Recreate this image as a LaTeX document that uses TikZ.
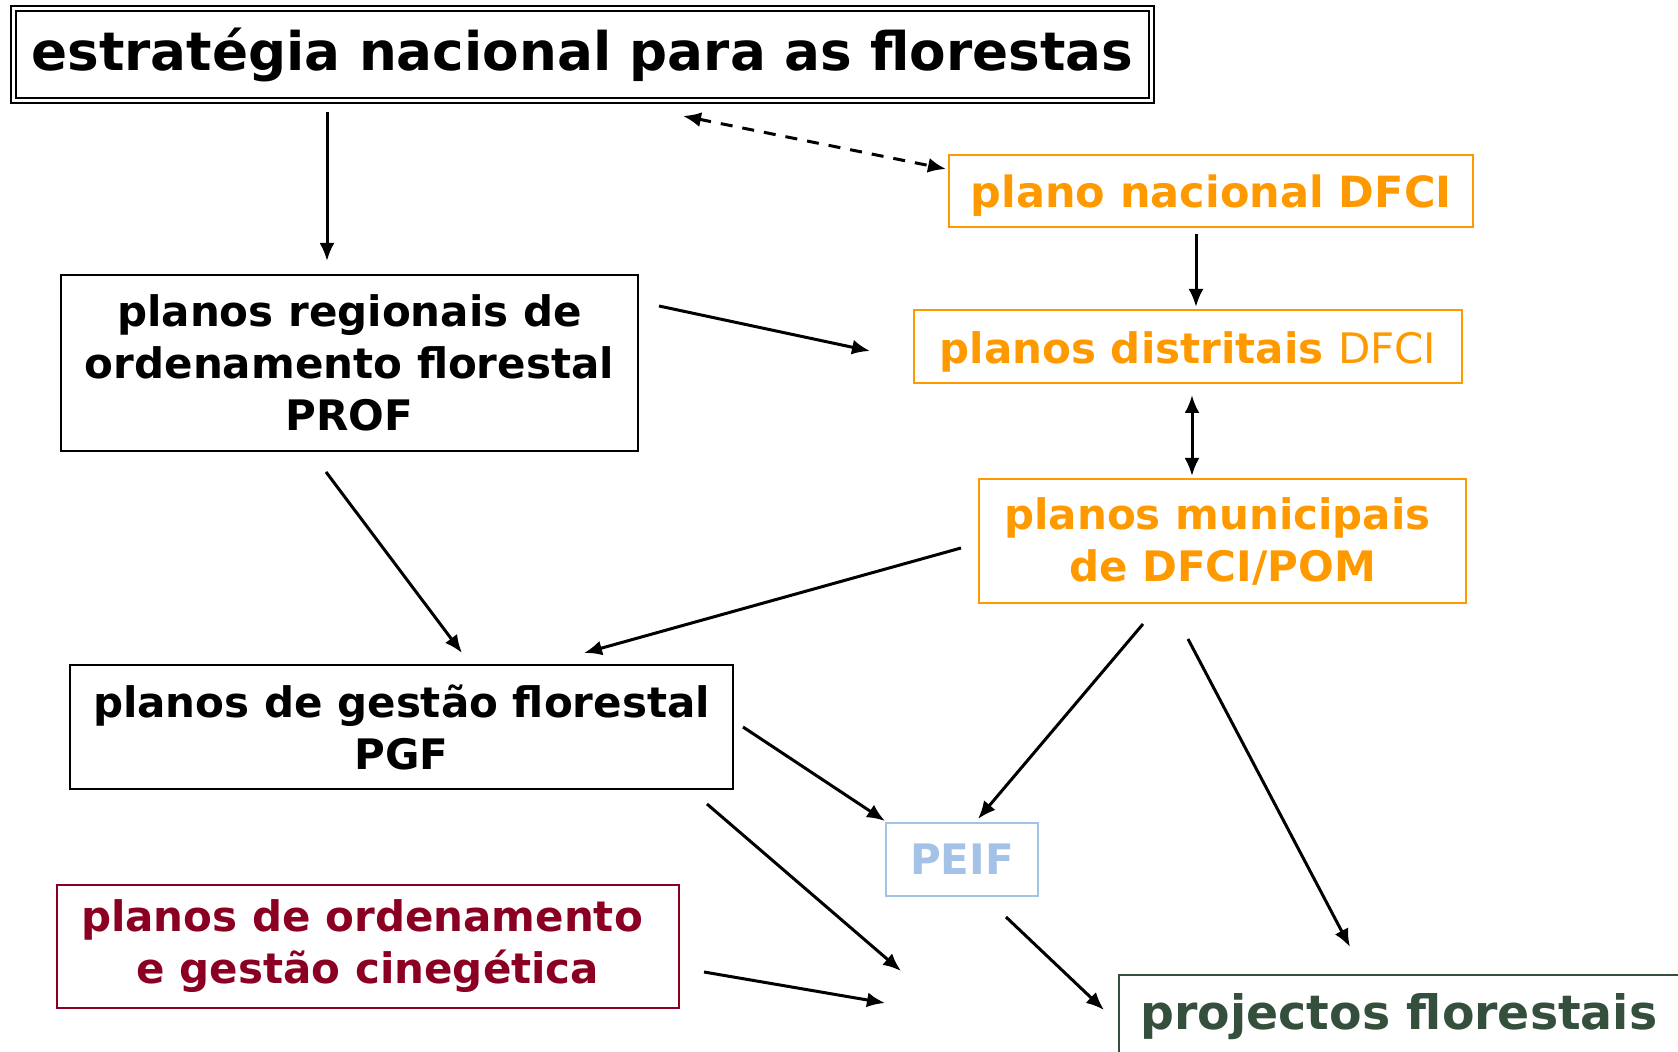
\documentclass[tikz,border=0pt]{standalone}
\usepackage{fontspec}
\setmainfont{DejaVu Sans}
\usetikzlibrary{arrows.meta,calc,positioning}
\definecolor{dforange}{RGB}{255,153,0}
\definecolor{dfblue}{RGB}{164,194,232}
\definecolor{dfred}{RGB}{139,0,34}
\definecolor{dfgreen}{RGB}{52,79,59}

\begin{document}
\begin{tikzpicture}[x=0.5pt,y=-0.5pt,>={Latex[length=9pt,width=7.5pt]},
    every node/.style={align=center,inner sep=0pt,outer sep=0pt,font=\bfseries\fontsize{21}{26}\selectfont},
    arr/.style={->,line width=1.5pt}]
  \useasboundingbox (0,0) rectangle (1678,1052);
  \node[draw,double,line width=1pt,double distance=1.5pt,minimum width=569pt,minimum height=46pt,font=\bfseries\fontsize{26.6}{30}\selectfont] (enf) at (582.5,54.5) {estratégia nacional para as florestas};
  \node[draw=dforange,text=dforange,line width=0.8pt,minimum width=262pt,minimum height=36pt,font=\bfseries\fontsize{21.5}{26}\selectfont] (pndfci) at (1211,191) {\raisebox{-2.5pt}[\height][\depth]{plano nacional DFCI}};
  \node[draw,line width=0.8pt,minimum width=288.5pt,minimum height=88pt] (prof) at (349.5,363) {planos regionais de\\ordenamento florestal\\PROF};
  \node[draw=dforange,text=dforange,line width=0.8pt,minimum width=274pt,minimum height=36.5pt] (pddfci) at (1188,346.5) {\raisebox{-2.5pt}[\height][\depth]{planos distritais {\mdseries DFCI}}};
  \node[draw=dforange,text=dforange,line width=0.8pt,minimum width=243.5pt,minimum height=62pt] (pmdfci) at (1222.5,541) {planos municipais\hspace*{5pt}\\de DFCI/POM};
  \node[draw,line width=0.8pt,minimum width=331.5pt,minimum height=62pt] (pgf) at (401.5,727) {planos de gestão florestal\\PGF};
  \node[draw=dfblue,text=dfblue,line width=0.8pt,minimum width=76pt,minimum height=36.5pt] (peif) at (962,859.5) {PEIF};
  \node[draw=dfred,text=dfred,line width=0.8pt,minimum width=311pt,minimum height=61.5pt] (pogc) at (368,946.5) {planos de ordenamento\hspace*{6pt}\\e gestão cinegética};
  \node[draw=dfgreen,text=dfgreen,line width=0.8pt,minimum width=280pt,minimum height=42pt,font=\bfseries\fontsize{23.7}{28}\selectfont] (proj) at (1399,1017) {projectos florestais};
  \coordinate (endk) at (901,971);
  \coordinate (endl) at (885,1003);
  % connectors
  \draw[arr] ([shift={(-255.5,11.5)}]enf.south) -- ([shift={(-22.5,-14)}]prof.north);
  \draw[<->,line width=1.5pt,dash pattern=on 6pt off 5pt] ([shift={(100.5,15.5)}]enf.south) -- ([shift={(-3,-22)}]pndfci.west);
  \draw[arr] ([shift={(-15,7)}]pndfci.south) -- ([shift={(8,-3)}]pddfci.north);
  \draw[<->,line width=1.5pt] ([shift={(4,12)}]pddfci.south) -- ([shift={(-30.5,-3)}]pmdfci.north);
  \draw[arr] ([shift={(21,-57)}]prof.east) -- ([shift={(-44,4.5)}]pddfci.west);
  \draw[arr] ([shift={(-23.5,21)}]prof.south) -- ([shift={(60.5,-12)}]pgf.north);
  \draw[arr] ([shift={(-18,7)}]pmdfci.west) -- ([shift={(182.5,-12)}]pgf.north);
  \draw[arr] ([shift={(-79.5,21)}]pmdfci.south) -- ([shift={(16,-4)}]peif.north);
  \draw[arr] ([shift={(-34.5,36)}]pmdfci.south) -- ([shift={(-49,-28)}]proj.north);
  \draw[arr] ([shift={(10,0)}]pgf.east) -- ([shift={(-1,-2)}]peif.north west);
  \draw[arr] ([shift={(-26,15)}]pgf.south east) -- (endk);
  \draw[arr] ([shift={(25,25.5)}]pogc.east) -- (endl);
  \draw[arr] ([shift={(44,21)}]peif.south) -- ([shift={(-15,-7)}]proj.west);
\end{tikzpicture}
\end{document}
